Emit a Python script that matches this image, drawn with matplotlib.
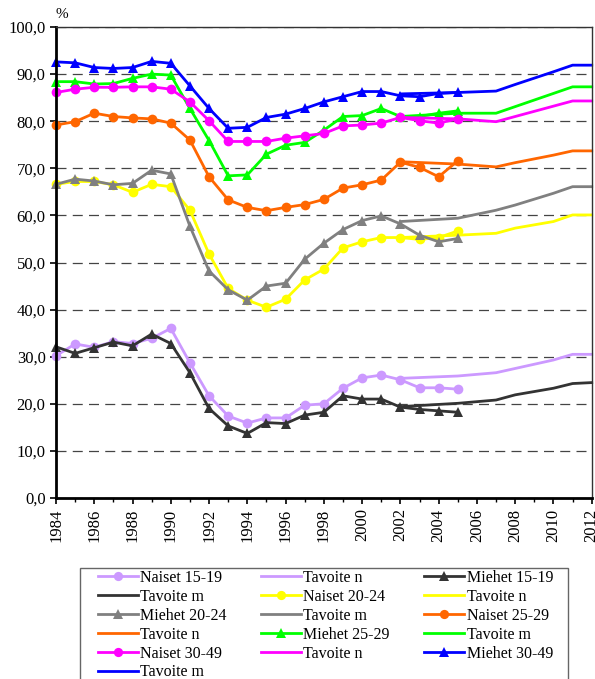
import matplotlib
matplotlib.use("Agg")
import matplotlib.pyplot as plt
from matplotlib.patches import Rectangle
from matplotlib.ticker import MultipleLocator, FuncFormatter

plt.rcParams['font.family'] = ['Liberation Serif', 'DejaVu Serif']

# toteutuneet arvot 1984-2005
years = list(range(1984, 2006))
naiset_15_19 = [30.2, 32.7, 32.0, 33.2, 32.8, 33.9, 36.0, 28.7, 21.7, 17.4, 15.9,
                17.0, 17.0, 19.7, 20.0, 23.3, 25.5, 26.1, 25.1, 23.4, 23.4, 23.1]
miehet_15_19 = [32.1, 30.7, 31.9, 33.1, 32.3, 34.8, 32.8, 26.6, 19.0, 15.3, 13.7,
                16.0, 15.8, 17.6, 18.2, 21.7, 21.0, 21.0, 19.3, 18.8, 18.5, 18.2]
naiset_20_24 = [66.6, 67.2, 67.2, 66.5, 64.9, 66.6, 66.1, 61.1, 51.8, 44.5, 42.0,
                40.5, 42.2, 46.3, 48.6, 53.1, 54.4, 55.3, 55.3, 54.9, 55.3, 56.7]
miehet_20_24 = [66.6, 67.7, 67.3, 66.5, 66.8, 69.6, 68.8, 57.7, 48.2, 44.2, 42.0,
                45.0, 45.6, 50.7, 54.1, 57.0, 58.9, 59.9, 58.2, 55.8, 54.4, 55.1]
naiset_25_29 = [79.2, 79.9, 81.7, 81.0, 80.7, 80.5, 79.6, 76.0, 68.2, 63.3, 61.7,
                61.0, 61.7, 62.3, 63.4, 65.8, 66.5, 67.5, 71.3, 70.2, 68.2, 71.6]
miehet_25_29 = [88.4, 88.4, 87.9, 88.0, 89.1, 90.0, 89.8, 82.7, 75.9, 68.4, 68.6,
                73.0, 74.9, 75.5, 78.1, 81.0, 81.2, 82.7, 81.0, 81.0, 81.7, 82.2]
naiset_30_49 = [86.1, 86.8, 87.2, 87.2, 87.3, 87.3, 86.8, 84.1, 80.1, 75.7, 75.7,
                75.7, 76.4, 76.9, 77.4, 79.0, 79.2, 79.6, 80.8, 80.1, 79.6, 80.5]
miehet_30_49 = [92.6, 92.4, 91.4, 91.2, 91.4, 92.7, 92.3, 87.5, 82.7, 78.5, 78.7,
                80.8, 81.5, 82.7, 84.1, 85.2, 86.3, 86.3, 85.4, 85.2, 85.9, 86.1]

# tavoitteet
target_years = [2002, 2005, 2007, 2008, 2010, 2011, 2012]
tavoite_n_15 = [25.4, 25.9, 26.6, 27.5, 29.3, 30.5, 30.5]
tavoite_m_15 = [19.4, 20.1, 20.8, 21.9, 23.3, 24.3, 24.5]
tavoite_n_20 = [55.3, 55.8, 56.2, 57.3, 58.7, 60.1, 60.1]
tavoite_m_20 = [58.7, 59.4, 61.1, 62.2, 64.7, 66.1, 66.1]
tavoite_n_25 = [71.4, 70.9, 70.3, 71.2, 72.8, 73.7, 73.7]
tavoite_m_25 = [81.0, 81.7, 81.7, 83.1, 85.9, 87.3, 87.3]
tavoite_n_30 = [80.8, 80.5, 79.9, 81.0, 83.2, 84.3, 84.3]
tavoite_m_30 = [85.8, 86.1, 86.4, 87.8, 90.5, 91.9, 91.9]

# (label, x, y, colour, marker)
series = [
    ("Naiset 15-19", years, naiset_15_19, "#CC99FF", "o"),
    ("Tavoite n", target_years, tavoite_n_15, "#CC99FF", None),
    ("Miehet 15-19", years, miehet_15_19, "#333333", "^"),
    ("Tavoite m", target_years, tavoite_m_15, "#333333", None),
    ("Naiset 20-24", years, naiset_20_24, "#FFFF00", "o"),
    ("Tavoite n", target_years, tavoite_n_20, "#FFFF00", None),
    ("Miehet 20-24", years, miehet_20_24, "#808080", "^"),
    ("Tavoite m", target_years, tavoite_m_20, "#808080", None),
    ("Naiset 25-29", years, naiset_25_29, "#FF6600", "o"),
    ("Tavoite n", target_years, tavoite_n_25, "#FF6600", None),
    ("Miehet 25-29", years, miehet_25_29, "#00FF00", "^"),
    ("Tavoite m", target_years, tavoite_m_25, "#00FF00", None),
    ("Naiset 30-49", years, naiset_30_49, "#FF00FF", "o"),
    ("Tavoite n", target_years, tavoite_n_30, "#FF00FF", None),
    ("Miehet 30-49", years, miehet_30_49, "#0000FF", "^"),
    ("Tavoite m", target_years, tavoite_m_30, "#0000FF", None),
]

fig = plt.figure(figsize=(5.95, 6.79), dpi=100)
ax = fig.add_axes([0.0941, 0.2666, 0.9004, 0.6936])

handles = []
for label, xs, ys, col, mk in series:
    h, = ax.plot(xs, ys, color=col, lw=2.0, marker=mk, markersize=7,
                 markeredgewidth=0, label=label, clip_on=False)
    handles.append(h)

ax.set_xlim(1984, 2012)
ax.set_ylim(0, 100)
ax.xaxis.set_major_locator(MultipleLocator(2))
ax.xaxis.set_minor_locator(MultipleLocator(1))
ax.yaxis.set_major_locator(MultipleLocator(10))
ax.yaxis.set_major_formatter(FuncFormatter(lambda v, p: f"{v:.1f}".replace(".", ",")))
ax.tick_params(axis="x", labelrotation=90, labelsize=12, length=4, width=1.2, direction="out")
ax.tick_params(axis="x", which="minor", length=3, width=1.0)
ax.tick_params(axis="y", labelsize=12, length=4, width=1.2)

ax.grid(axis="y", linestyle=(0, (8, 5)), color="#444444", lw=0.9)
ax.set_axisbelow(True)
ax.spines["left"].set_linewidth(2.0)
ax.spines["bottom"].set_linewidth(2.0)
ax.spines["top"].set_linewidth(1.0)
ax.spines["top"].set_color("#333333")
ax.spines["right"].set_linewidth(1.0)
ax.spines["right"].set_color("#333333")

ax.text(0.0, 1.012, "%", transform=ax.transAxes, fontsize=11, ha="left", va="bottom")

# legend filled row by row like the original, box runs past the bottom edge
order = [0, 3, 6, 9, 12, 15, 1, 4, 7, 10, 13, 2, 5, 8, 11, 14]
leg = fig.legend([handles[i] for i in order], [series[i][0] for i in order],
                 loc="upper left", bbox_to_anchor=(0.1647, 0.0, 0.765, 0.1605),
                 mode="expand", ncol=3, fontsize=11.5, frameon=False,
                 handlelength=2.5, handletextpad=0.15,
                 labelspacing=0.18, borderpad=0, borderaxespad=0, markerscale=0.95)
fig.add_artist(Rectangle((80 / 595, -0.05), (568 - 80) / 595, 0.1635 + 0.05,
                         transform=fig.transFigure, fill=False,
                         edgecolor="#666666", lw=1.0))

fig.savefig("out.png", dpi=100)
